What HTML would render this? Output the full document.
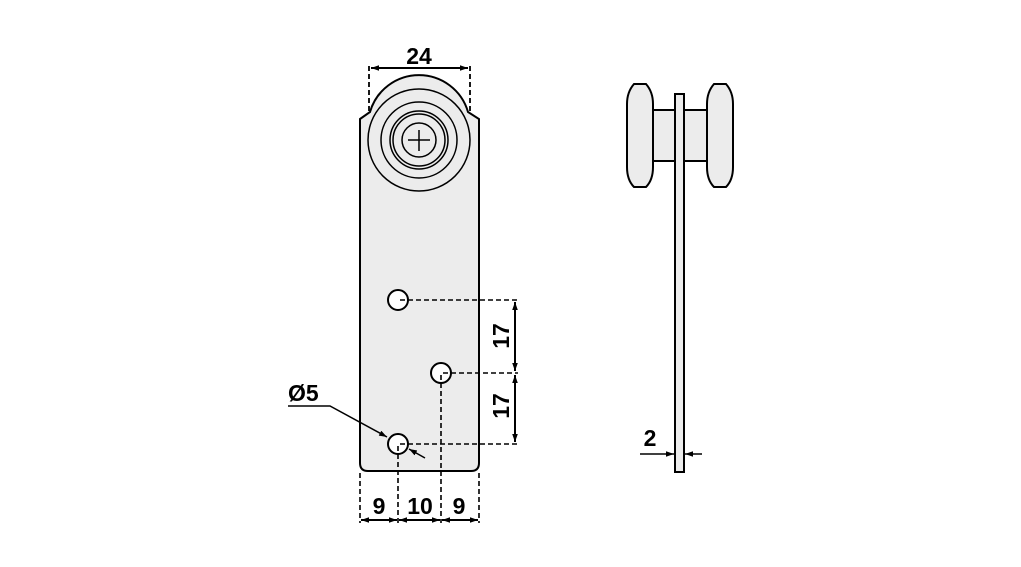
<!DOCTYPE html>
<html><head><meta charset="utf-8"><style>
html,body{margin:0;padding:0;background:#fff;}
svg{display:block;}
text{font-family:"Liberation Sans",sans-serif;font-weight:bold;font-size:23px;fill:#000;}
</style></head><body>
<svg width="1021" height="567" viewBox="0 0 1021 567" xmlns="http://www.w3.org/2000/svg">
<defs>
<marker id="a" viewBox="0 0 10 10" refX="10" refY="5" markerWidth="8" markerHeight="8" orient="auto-start-reverse" markerUnits="userSpaceOnUse"><path d="M0,1.5 L10,5 L0,8.5 Z" fill="#000"/></marker>
</defs>
<!-- plate front -->
<path d="M360,119 L370,112 A51,51 0 0 1 468,112 L479,119 L479,463 Q479,471 471,471 L368,471 Q360,471 360,463 Z" fill="#ececec" stroke="#000" stroke-width="2"/>
<g fill="none" stroke="#000" stroke-width="1.5">
<circle cx="419" cy="140" r="51"/>
<circle cx="419" cy="140" r="38"/>
<circle cx="419" cy="140" r="29"/>
<circle cx="419" cy="140" r="26"/>
<circle cx="419" cy="140" r="17"/>
<path d="M419,130 V151 M408,140 H430"/>
</g>
<!-- 24 dim -->
<g stroke="#000" stroke-width="1.8" fill="none">
<path d="M369,66 V113 M470,66 V113" stroke-dasharray="5,3"/>
<path d="M371,68 H468" stroke-width="2" marker-start="url(#a)" marker-end="url(#a)"/>
</g>
<text x="419" y="64" text-anchor="middle">24</text>
<!-- holes -->
<g fill="#fff" stroke="#000" stroke-width="2">
<circle cx="398" cy="300" r="10"/>
<circle cx="441" cy="373" r="10"/>
<circle cx="398" cy="444" r="10"/>
</g>
<g stroke="#000" stroke-width="1.6" fill="none" stroke-dasharray="5,3">
<path d="M400,300 H518 M443,373 H518 M400,444 H518"/>
<path d="M441,375 V523 M398,446 V523 M360,473 V523 M479,473 V523"/>
</g>
<g stroke="#000" stroke-width="2" fill="none">
<path d="M515,302 V371" marker-start="url(#a)" marker-end="url(#a)"/>
<path d="M515,375 V442" marker-start="url(#a)" marker-end="url(#a)"/>
<path d="M361,520 H397" marker-start="url(#a)" marker-end="url(#a)"/>
<path d="M399,520 H440" marker-start="url(#a)" marker-end="url(#a)"/>
<path d="M442,520 H478" marker-start="url(#a)" marker-end="url(#a)"/>
<path d="M288,406 H330 L387,437" stroke-width="1.5" marker-end="url(#a)"/>
<path d="M425,458 L409,449" stroke-width="1.5" marker-end="url(#a)"/>
</g>
<text x="0" y="0" text-anchor="middle" transform="translate(509,336) rotate(-90)">17</text>
<text x="0" y="0" text-anchor="middle" transform="translate(509,406) rotate(-90)">17</text>
<text x="379" y="514" text-anchor="middle">9</text>
<text x="420" y="514" text-anchor="middle">10</text>
<text x="459" y="514" text-anchor="middle">9</text>
<text x="288" y="401">Ø5</text>
<!-- side view -->
<g stroke="#000" stroke-width="2" fill="#ececec">
<rect x="653" y="110" width="54" height="51"/>
<path d="M634,84 H646 Q653,92 653,104 V167 Q653,180 646,187 H634 Q627,180 627,167 V104 Q627,92 634,84 Z"/>
<path d="M714,84 H726 Q733,92 733,104 V167 Q733,180 726,187 H714 Q707,180 707,167 V104 Q707,92 714,84 Z"/>
<rect x="675" y="94" width="9" height="378"/>
</g>
<g stroke="#000" stroke-width="1.5" fill="none">
<path d="M640,454 H674" marker-end="url(#a)"/>
<path d="M702,454 H685" marker-end="url(#a)"/>
</g>
<text x="650" y="446" text-anchor="middle">2</text>
</svg>
</body></html>
